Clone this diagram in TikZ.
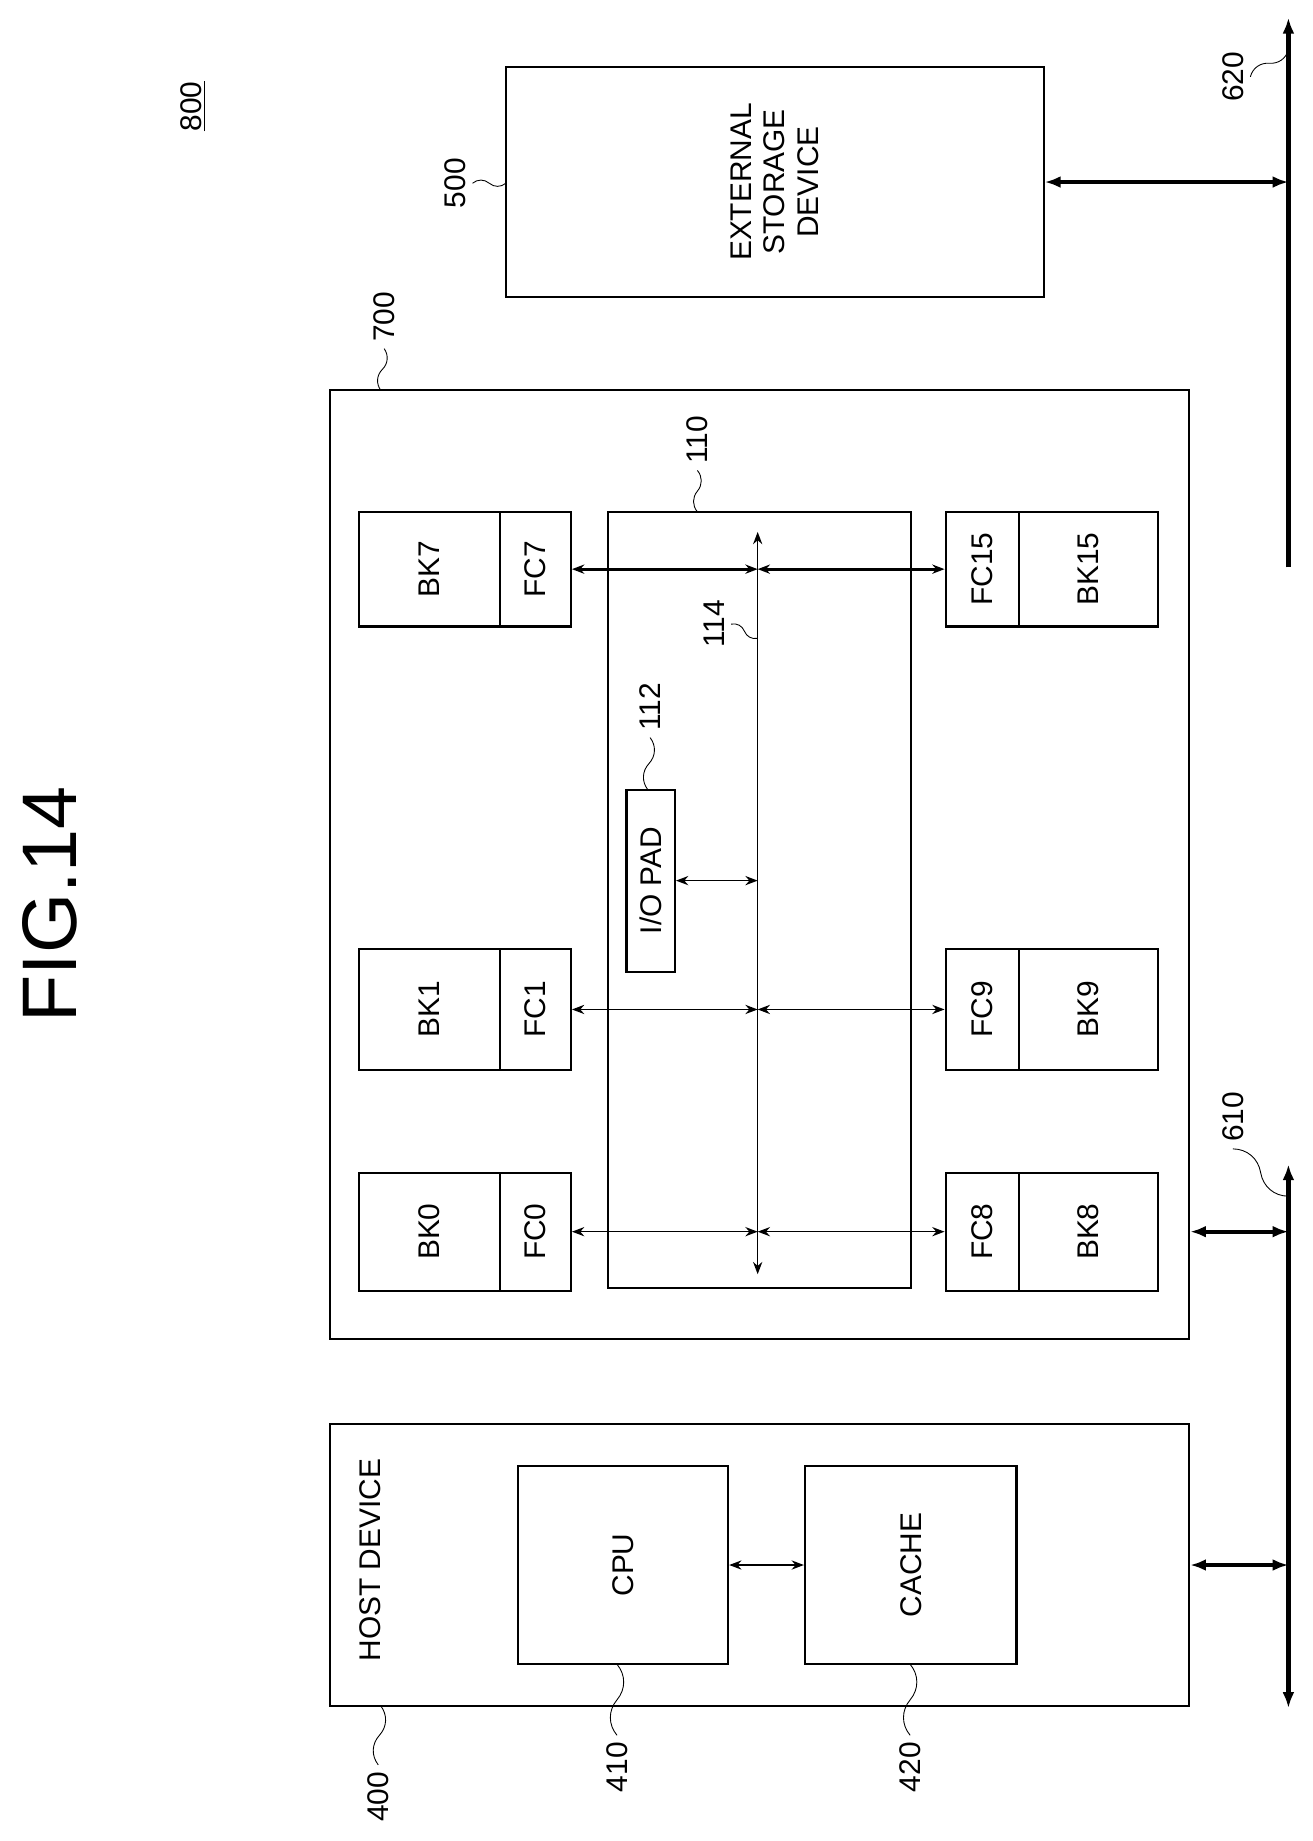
\documentclass[tikz,border=0pt]{standalone}
\usepackage{fontspec}
\setmainfont{Liberation Sans}
\usetikzlibrary{arrows.meta,calc}
\newlength\unitpx
\setlength\unitpx{0.02364cm}
\newcommand\leader[2]{\draw[leadline] (#1) to[bend left=40] ($(#1)!0.5!(#2)$) to[bend right=40] (#2);}

\begin{document}
\begin{tikzpicture}[
    x=\unitpx, y=-\unitpx, line width=1.2pt,
    every node/.style={font=\fontsize{17}{19}\selectfont, rotate=90, align=center},
    box/.style={draw, inner sep=0pt},
    leadline/.style={line width=0.5pt},
    tarrow/.style={line width=0.9pt, {Stealth[length=7pt]}-{Stealth[length=7pt]}},
    barrow/.style={line width=2.4pt, {Latex[length=9pt]}-{Latex[length=9pt]}}
]
\useasboundingbox (0,0) rectangle (1110,1557.5);

% Title and reference
\node (fig) at (42,765) {\fontsize{44}{48}\selectfont FIG.14};
\node (ref) at (163,90) {\underline{800}};

% External storage device and bus 620
\node (ext) [box, minimum width=194\unitpx, minimum height=455\unitpx] at (655.5,154) {EXTERNAL\\STORAGE\\DEVICE};
\coordinate (b620top) at (1090,15);
\coordinate (b620bot) at (1090,480);
\draw[line width=2.4pt, -{Latex[length=9pt]}] (b620bot) -- (b620top);
\draw[barrow] (ext.south) -- (ext.south -| b620top);

% Memory module 700
\node (mem) [box, minimum width=803\unitpx, minimum height=727\unitpx] at (642.5,731.5) {};
\node (ctrl) [box, minimum width=657\unitpx, minimum height=257\unitpx] at (642.5,761.5) {};
\coordinate (b114top) at (641,450);
\coordinate (b114bot) at (641,1078);
\draw[tarrow] (b114top) -- (b114bot);
\node (iopad) [box, minimum width=154\unitpx, minimum height=41\unitpx] at (550.5,745) {I/O PAD};
\draw[tarrow] (iopad.south) -- (iopad.south -| b114top);

% Banks, upper row
\foreach \n/\y/\h in {7/481.5/97, 1/854/102, 0/1042/100} {
  \node (bk\n) [box, minimum width=\h\unitpx, minimum height=119\unitpx] at (363.5,\y) {BK\n};
  \node (fc\n) [box, minimum width=\h\unitpx, minimum height=60\unitpx] at (453,\y) {FC\n};
}
% Banks, lower row
\foreach \n/\y/\h in {15/481.5/97, 9/854/102, 8/1042/100} {
  \node (fc\n) [box, minimum width=\h\unitpx, minimum height=62\unitpx] at (831,\y) {FC\n};
  \node (bk\n) [box, minimum width=\h\unitpx, minimum height=118\unitpx] at (921,\y) {BK\n};
}
\foreach \a/\b in {1/9, 0/8} {
  \draw[tarrow] (fc\a.south) -- (fc\a.south -| b114top);
  \draw[tarrow] (fc\b.north -| b114top) -- (fc\b.north);
}
\draw[tarrow, line width=1.6pt] (fc7.south) -- (fc7.south -| b114top);
\draw[tarrow, line width=1.6pt] (fc15.north -| b114top) -- (fc15.north);

% Host device
\node (host) [box, minimum width=238\unitpx, minimum height=727\unitpx] at (642.5,1324) {};
\node (hostlbl) at (313,1320) {HOST DEVICE};
\node (cpu) [box, minimum width=168\unitpx, minimum height=178\unitpx] at (527,1324) {CPU};
\node (cache) [box, minimum width=168\unitpx, minimum height=179\unitpx] at (770.5,1324) {CACHE};
\draw[tarrow] (cpu.south) -- (cache.north);

% System bus 610
\coordinate (b610top) at (1090,985);
\coordinate (b610bot) at (1090,1445);
\draw[line width=2.4pt, {Latex[length=9pt]}-{Latex[length=9pt]}] (b610top) -- (b610bot);
\draw[barrow] (mem.south |- fc8) -- (b610top |- fc8);
\draw[barrow] (host.south) -- (host.south -| b610top);

% Reference numerals
\node (l400) at (320,1520) {400};
\node (l410) at (522,1495) {410};
\node (l420) at (770,1495) {420};
\node (l500) at (385,155) {500};
\node (l700) at (325,268) {700};
\node (l110) at (590,372) {110};
\node (l114) at (604,528) {114};
\node (l112) at (550,598) {112};
\node (l620) at (1043,65) {620};
\node (l610) at (1043,945) {610};
\leader{l400.east}{322,1443}
\leader{l410.east}{522,1408}
\leader{l420.east}{770,1408}
\leader{l500.south}{428,155}
\leader{l700.west}{322,330}
\leader{l110.west}{590,433}
\leader{l114.south}{641,540}
\leader{l112.west}{548,668}
\leader{l620.south}{1090,42}
\leader{l610.west}{1090,1012}
\end{tikzpicture}
\end{document}
